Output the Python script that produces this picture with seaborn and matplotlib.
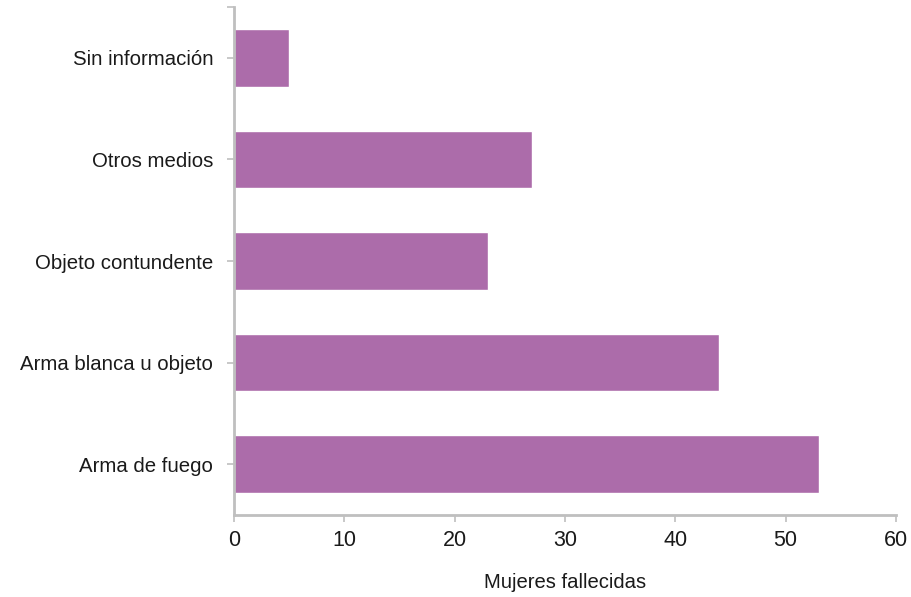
import matplotlib
matplotlib.use("Agg")
import matplotlib.pyplot as plt
import seaborn as sns
import pandas as pd

categories = ["Sin información", "Otros medios", "Objeto contundente",
              "Arma blanca u objeto", "Arma de fuego"]
values = [5, 27, 23, 44, 53]
xlabel = "Mujeres fallecidas"
xticks = [0, 10, 20, 30, 40, 50, 60]

df = pd.DataFrame({"cat": categories, "val": values})

sns.set_theme(style="white")
plt.rcParams['font.family'] = ['Liberation Sans', 'DejaVu Sans']

fig = plt.figure(figsize=(9.12, 5.97), dpi=100)
ax = fig.add_axes([234/912, 1-515/597, (896-234)/912, (515-7)/597])

sns.barplot(data=df, x="val", y="cat", order=categories, color="#AC6CAA",
            saturation=1, width=0.565, ax=ax)

ax.set_xlim(0, 60)
ax.set_ylim(4.5, -0.5)
ax.set_xticks(xticks)
ax.set_xticklabels([str(t) for t in xticks], fontsize=15.5, color="#1a1a1a")
ax.set_yticks(range(len(categories)))
ax.set_yticklabels(categories, fontsize=14.7, color="#1a1a1a")
ax.set_yticks([-0.5], minor=True)
ax.set_ylabel("")
ax.set_xlabel(xlabel, fontsize=14.6, color="#1a1a1a", labelpad=16)

for s in ["top", "right"]:
    ax.spines[s].set_visible(False)
for s in ["left", "bottom"]:
    ax.spines[s].set_color("#BFBFBF")
    ax.spines[s].set_linewidth(2)
ax.tick_params(axis="both", which="both", length=5, width=1.2, color="#BFBFBF",
               left=True, bottom=True)
ax.tick_params(axis="x", pad=6)
ax.tick_params(axis="y", pad=10)

fig.savefig("out.png", dpi=100)
